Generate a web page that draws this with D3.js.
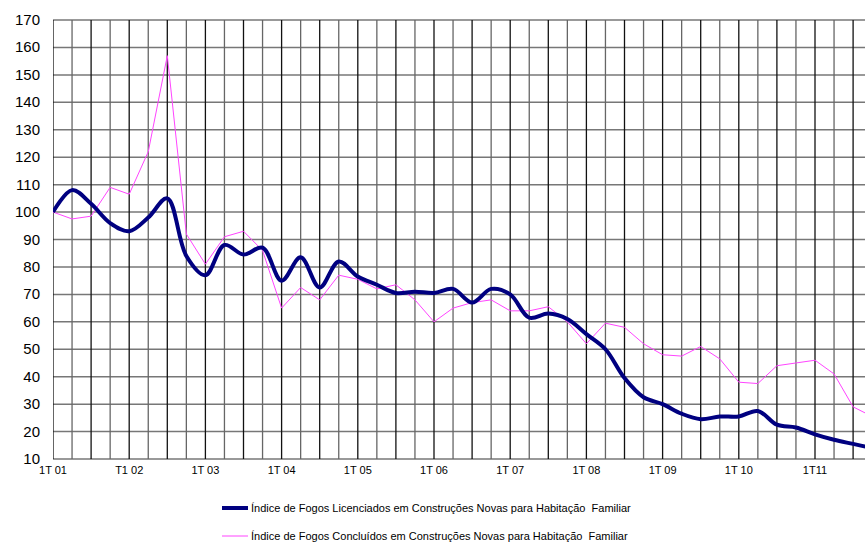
<!DOCTYPE html>
<html><head><meta charset="utf-8">
<script src="https://cdn.jsdelivr.net/npm/d3@7"></script>
<style>body{margin:0;background:#fff;font-family:"Liberation Sans",Arial,sans-serif}</style>
</head><body><div class="chart"></div>
<script>
var licenciados = [100,108,103,96,93,98,105,84,77,88,84.5,87,75,83.5,72.5,82,76.5,73.5,70.5,71,70.5,72,67,72,70,61.5,63,61,55.5,50,39.5,32.5,30,26.5,24.5,25.5,25.5,27.5,22.5,21.5,19,17,15.5,14];
var concluidos = [100,97.5,98.5,109,106.5,122,157,92,81,91,93,86,65,72.5,68,77,75.5,72,73.5,68,60,65,67,68,64,64,65.5,60,52,59.5,58,52,48,47.5,51,46.5,38,37.5,44,45,46,41,29,25.5];
var tickLabels = ["1T 01","T1 02","1T 03","1T 04","1T 05","1T 06","1T 07","1T 08","1T 09","1T 10","1T11"];
var yTicks = d3.range(10, 171, 10);

var w = 865, h = 543;
var plotL = 53, plotR = 865, plotT = 20, plotB = 459;
var svg = d3.select(".chart").append("svg").attr("width", w).attr("height", h);
var x = d3.scaleLinear().domain([0, 1]).range([plotL, plotL + 19.05]);
var y = d3.scaleLinear().domain([10, 170]).range([plotB, plotT]);

svg.append("clipPath").attr("id", "c").append("rect")
   .attr("x", plotL).attr("y", 0).attr("width", plotR - plotL).attr("height", h);
var g = svg.append("g").attr("clip-path", "url(#c)");

// grid
g.selectAll(".h").data(yTicks).enter().append("line")
 .attr("x1", plotL).attr("x2", plotR).attr("y1", y).attr("y2", y)
 .attr("stroke", "#777").attr("stroke-width", 1.5);
g.selectAll(".v").data(d3.range(0, 44)).enter().append("line")
 .attr("x1", x).attr("x2", x).attr("y1", plotT).attr("y2", plotB)
 .attr("stroke", function(d){ return d % 2 ? "#666" : "#111"; }).attr("stroke-width", 1.3);

var line = d3.line().x(function(d, i){ return x(i); }).y(function(d){ return y(d); });
g.append("path").datum(concluidos).attr("d", line)
 .attr("fill", "none").attr("stroke", "#ff44ff").attr("stroke-width", 1);
g.append("path").datum(licenciados).attr("d", line.curve(d3.curveCatmullRom))
 .attr("fill", "none").attr("stroke", "#000080").attr("stroke-width", 4);

svg.selectAll(".yl").data(yTicks).enter().append("text")
   .attr("x", 40).attr("y", function(d){ return y(d) + 5; })
   .attr("text-anchor", "end").attr("font-size", 15).text(function(d){ return d; });
svg.selectAll(".xl").data(tickLabels).enter().append("text")
   .attr("x", function(d, i){ return x(i * 4); }).attr("y", 474)
   .attr("text-anchor", "middle").attr("font-size", 11).text(function(d){ return d; });

var legend = [["Índice de Fogos Licenciados em Construções Novas para Habitação  Familiar", "#000080", 4, 508],
              ["Índice de Fogos Concluídos em Construções Novas para Habitação  Familiar", "#ff44ff", 1, 536]];
legend.forEach(function(l){
  svg.append("line").attr("x1", 222).attr("x2", 248).attr("y1", l[3]).attr("y2", l[3])
     .attr("stroke", l[1]).attr("stroke-width", l[2]);
  svg.append("text").attr("x", 251).attr("y", l[3] + 4).attr("font-size", 11)
     .style("white-space", "pre").text(l[0]);
});
</script></body></html>
